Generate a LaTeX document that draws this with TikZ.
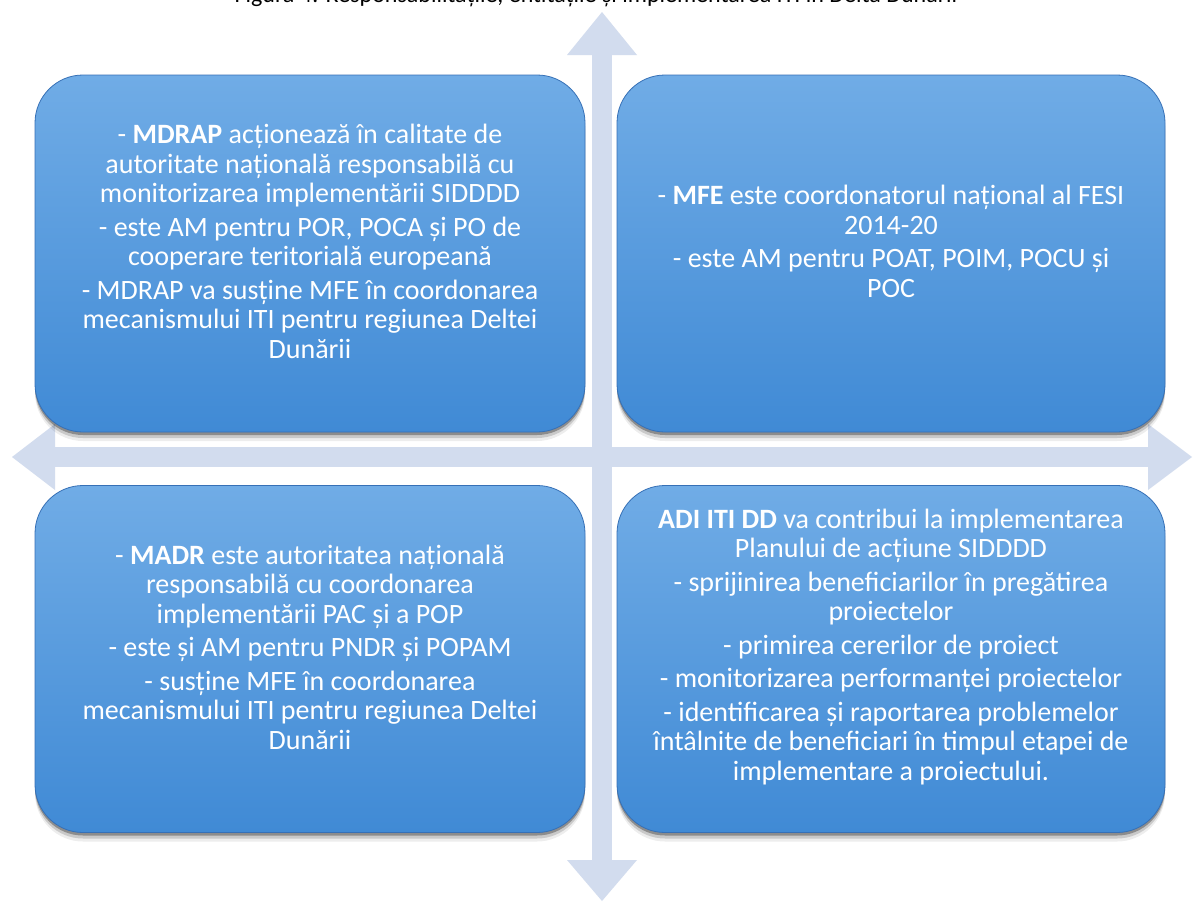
\documentclass[tikz,border=0pt]{standalone}
\usepackage{fontspec}
\setmainfont{Carlito}
\usetikzlibrary{shadows}
\definecolor{arrowc}{RGB}{210,220,238}
\definecolor{boxtop}{RGB}{112,172,230}
\definecolor{boxbot}{RGB}{64,138,213}
\definecolor{boxedge}{RGB}{54,112,182}
\tikzset{
  quad/.style={rounded corners=48pt, minimum width=550pt, inner sep=0pt,
    draw=boxedge, line width=0.8pt, top color=boxtop, bottom color=boxbot,
    drop shadow={shadow xshift=0pt, shadow yshift=-3pt, opacity=0.30, fill=black},
    drop shadow={shadow xshift=0pt, shadow yshift=-6pt, opacity=0.15, fill=black},
    drop shadow={shadow xshift=0pt, shadow yshift=-9pt, opacity=0.07, fill=black}},
  quadtext/.style={text=white, align=center, inner sep=0pt, yshift=12pt,
    font=\fontsize{28}{29.5}\selectfont},
  arr/.style={fill=arrowc, draw=none}
}
\begin{document}
\begin{tikzpicture}[x=1pt,y=-1pt]
\useasboundingbox (0,0) rectangle (1196,902);
\fill[white] (0,0) rectangle (1196,902);
% clipped title
\begin{scope}
\clip (0,0) rectangle (1196,902);
\node[anchor=base, inner sep=0pt, font=\fontsize{24}{28}\selectfont] (title) at (596,2.5)
  {Figura 4: Responsabilitățile, entitățile și implementarea ITI în Delta Dunării};
\end{scope}
% cross arrows
\fill[arr] (592,54) rectangle (612,861);
\fill[arr] (567,55) -- (602,12) -- (637,55) -- cycle;
\fill[arr] (567,860) -- (602,901) -- (637,860) -- cycle;
\fill[arr] (54,447) rectangle (1149,467);
\fill[arr] (55,424) -- (12,457) -- (55,490) -- cycle;
\fill[arr] (1148,424) -- (1192,457) -- (1148,490) -- cycle;
% boxes
\node[quad, minimum height=357pt] (tl) at (310,253.5) {};
\node[quad, minimum height=357pt, minimum width=548pt] (tr) at (891,253.5) {};
\node[quad, minimum height=347pt] (bl) at (310,659) {};
\node[quad, minimum height=347pt, minimum width=548pt] (br) at (891,659) {};
% texts
\node[quadtext] (tlt) at (tl.center) {%
- \textbf{MDRAP} acționează în calitate de\\
autoritate națională responsabilă cu\\
monitorizarea implementării SIDDDD\\[4pt]
- este AM pentru POR, POCA și PO de\\
cooperare teritorială europeană\\[4pt]
- MDRAP va susține MFE în coordonarea\\
mecanismului ITI pentru regiunea Deltei\\
Dunării};
\node[quadtext] (trt) at (tr.center) {%
- \textbf{MFE} este coordonatorul național al FESI\\
2014-20\\[4pt]
- este AM pentru POAT, POIM, POCU și\\
POC};
\node[quadtext] (blt) at (bl.center) {%
- \textbf{MADR} este autoritatea națională\\
responsabilă cu coordonarea\\
implementării PAC și a POP\\[4pt]
- este și AM pentru PNDR și POPAM\\[4pt]
- susține MFE în coordonarea\\
mecanismului ITI pentru regiunea Deltei\\
Dunării};
\node[quadtext] (brt) at (br.center) {%
\textbf{ADI ITI DD} va contribui la implementarea\\
Planului de acțiune SIDDDD\\[4pt]
- sprijinirea beneficiarilor în pregătirea\\
proiectelor\\[4pt]
- primirea cererilor de proiect\\[4pt]
- monitorizarea performanței proiectelor\\[4pt]
- identificarea și raportarea problemelor\\
întâlnite de beneficiari în timpul etapei de\\
implementare a proiectului.};
\end{tikzpicture}
\end{document}
